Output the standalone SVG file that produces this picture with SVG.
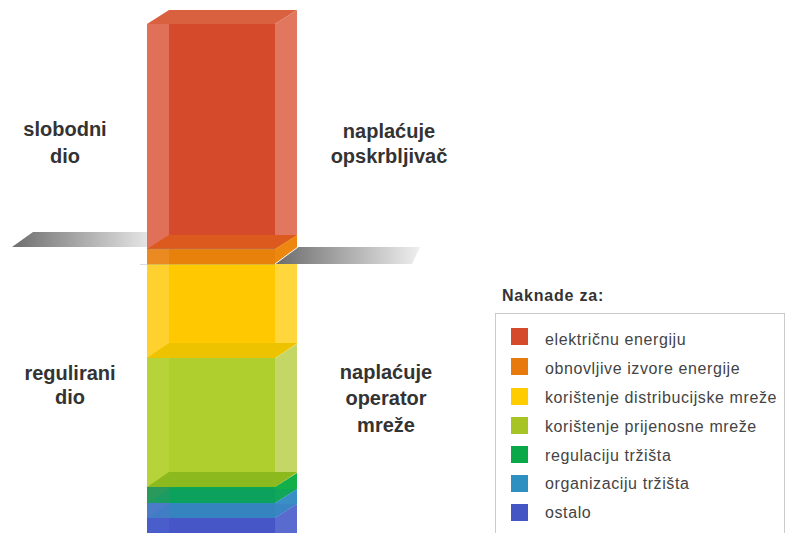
<svg xmlns="http://www.w3.org/2000/svg" width="786" height="533" viewBox="0 0 786 533">
<defs>
  <linearGradient id="gl" x1="12" y1="0" x2="147" y2="0" gradientUnits="userSpaceOnUse">
    <stop offset="0" stop-color="#6e6e6e"/>
    <stop offset="1" stop-color="#e4e4e4"/>
  </linearGradient>
  <linearGradient id="gr" x1="274" y1="0" x2="420" y2="0" gradientUnits="userSpaceOnUse">
    <stop offset="0" stop-color="#6a6a6a"/>
    <stop offset="1" stop-color="#efefef"/>
  </linearGradient>
</defs>
<style>
  .lbl { font-family: "Liberation Sans", Arial, sans-serif; font-size: 20px; font-weight: bold; fill: #333333; text-anchor: middle; }
  .lt { font-family: "Liberation Sans", Arial, sans-serif; font-size: 16px; font-weight: bold; fill: #333333; letter-spacing: 0.8px; }
  .li { font-family: "Liberation Sans", Arial, sans-serif; font-size: 16px; fill: #444444; letter-spacing: 0.6px; }
  .hl { fill: #ffffff; fill-opacity: 0.22; }
  .sh { fill: #000000; fill-opacity: 0.08; }
</style>
<rect width="786" height="533" fill="#ffffff"/>

<g id="plane-left">
  <polygon points="12,247 33,232 147,232 147,247" fill="url(#gl)"/>
</g>

<g id="bar">
  <g id="seg-elektricna">
    <polygon points="147,24 169,10 297,10 275,24" fill="#D9613F"/>
    <rect x="147" y="24" width="128" height="225" fill="#D64A2C"/>
    <rect x="147" y="24" width="22" height="225" fill="#E07058"/>
    <polygon points="275,24 297,10 297,235 275,249" fill="#E1775F"/>
  </g>
  <g id="seg-obnovljive">
    <polygon points="147,249 169,235 297,235 275,249" fill="#DC5A1E"/>
    <rect x="147" y="249" width="128" height="15" fill="#E8800C"/>
    <rect x="147" y="249" width="22" height="15" fill="#EC8A22"/>
    <polygon points="275,249 297,235 297,250 275,264" fill="#ED8710"/>
  </g>
  <g id="seg-distribucijske">
    <rect x="147" y="264" width="128" height="94" fill="#FFC800"/>
    <rect x="147" y="264" width="22" height="94" fill="#FFD12E"/>
    <polygon points="275,264 297,250 297,344 275,358" fill="#FFD63C"/>
  </g>
  <g id="seg-prijenosne">
    <polygon points="147,358 169,343 297,343 275,358" fill="#EDC300"/>
    <rect x="147" y="358" width="128" height="129" fill="#AFCF2F"/>
    <rect x="147" y="358" width="22" height="129" fill="#B6D33A"/>
    <polygon points="275,358 297,344 297,473 275,487" fill="#C4D766"/>
  </g>
  <g id="seg-regulacija">
    <polygon points="147,487 169,472 297,472 275,487" fill="#8CBA1E"/>
    <rect x="147" y="487" width="128" height="16" fill="#0AA651"/>
    <rect x="147" y="487" width="22" height="16" fill="#2A9A5C"/>
    <polygon points="275,487 297,473 297,489 275,503" fill="#12B049"/>
  </g>
  <g id="seg-organizacija">
    <polygon points="147,503 169,489 297,489 275,503" fill="#0D9E6A" fill-opacity="0.5"/>
    <rect x="147" y="503" width="128" height="15" fill="#2F8CBE"/>
    <rect x="147" y="503" width="22" height="15" fill="#4A7CC8"/>
    <polygon points="275,503 297,489 297,504 275,518" fill="#3A8EC6"/>
  </g>
  <g id="seg-ostalo">
    <polygon points="147,518 169,504 297,504 275,518" fill="#3A7FC2" fill-opacity="0.6"/>
    <rect x="147" y="518" width="128" height="20" fill="#4656C6"/>
    <rect x="147" y="518" width="22" height="20" fill="#4A5ECB"/>
    <polygon points="275,518 297,504 297,540 275,540" fill="#5A6BD0"/>
  </g>
  <line x1="147" y1="249" x2="275" y2="249" stroke="#999999" stroke-opacity="0.35" stroke-width="1"/>
  <line x1="140" y1="264.5" x2="275" y2="264.5" stroke="#999999" stroke-opacity="0.35" stroke-width="1"/>
</g>

<g id="plane-right">
  <polygon points="275,264 298,247 420,247 412,264" fill="url(#gr)"/>
  <line x1="275" y1="264" x2="298" y2="247" stroke="#ffffff" stroke-width="1"/>
</g>

<g id="connectors"/>

<g id="label-slobodni">
  <text class="lbl" x="65" y="136">slobodni</text>
  <text class="lbl" x="65" y="163">dio</text>
</g>
<g id="label-opskrbljivac">
  <text class="lbl" x="389" y="138">naplaćuje</text>
  <text class="lbl" x="389" y="163">opskrbljivač</text>
</g>
<g id="label-regulirani">
  <text class="lbl" x="70" y="380">regulirani</text>
  <text class="lbl" x="70" y="404">dio</text>
</g>
<g id="label-operator">
  <text class="lbl" x="386" y="379">naplaćuje</text>
  <text class="lbl" x="386" y="405">operator</text>
  <text class="lbl" x="386" y="432">mreže</text>
</g>

<g id="legend">
  <text class="lt" x="502" y="301">Naknade za:</text>
  <rect x="495.5" y="313.5" width="289" height="240" fill="#ffffff" stroke="#cccccc" stroke-width="1"/>
  <rect x="511" y="328" width="17" height="17" fill="#D64A2C"/>
  <text class="li" x="545" y="345">električnu energiju</text>
  <rect x="511" y="358" width="17" height="17" fill="#E8790C"/>
  <text class="li" x="545" y="374">obnovljive izvore energije</text>
  <rect x="511" y="388" width="17" height="17" fill="#FFCC00"/>
  <text class="li" x="545" y="403">korištenje distribucijske mreže</text>
  <rect x="511" y="417" width="17" height="17" fill="#A6C424"/>
  <text class="li" x="545" y="432">korištenje prijenosne mreže</text>
  <rect x="511" y="446" width="17" height="17" fill="#0BA84A"/>
  <text class="li" x="545" y="461">regulaciju tržišta</text>
  <rect x="511" y="475" width="17" height="17" fill="#2E90C0"/>
  <text class="li" x="545" y="489">organizaciju tržišta</text>
  <rect x="511" y="504" width="17" height="17" fill="#4455C4"/>
  <text class="li" x="545" y="518">ostalo</text>
</g>
</svg>
